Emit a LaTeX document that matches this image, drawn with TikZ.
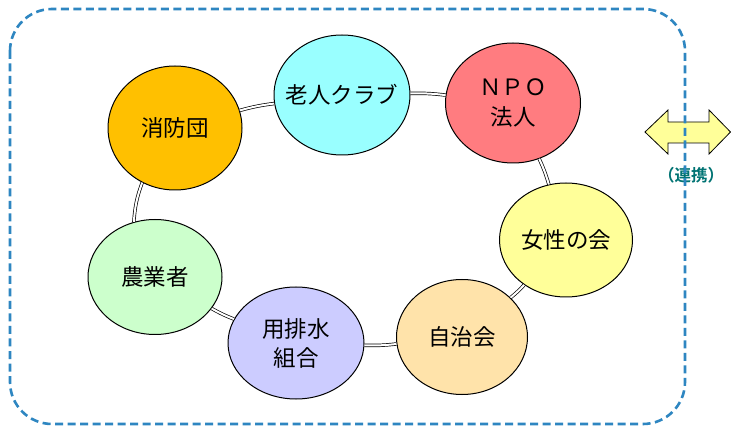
\documentclass[tikz,border=0pt]{standalone}
\usepackage{fontspec}
\newfontfamily\jp{Noto Sans CJK JP}
\newfontfamily\jpbold{Noto Sans CJK JP Bold}
\usetikzlibrary{shapes.geometric}
\definecolor{dashblue}{HTML}{2E86C1}
\definecolor{cOrange}{HTML}{FFC000}
\definecolor{cCyan}{HTML}{99FFFF}
\definecolor{cRed}{HTML}{FF7C80}
\definecolor{cYellow}{HTML}{FFFF99}
\definecolor{cPeach}{HTML}{FFE3AA}
\definecolor{cLav}{HTML}{CCCCFF}
\definecolor{cGreen}{HTML}{CCFFCC}
\definecolor{teal2}{HTML}{007373}
\begin{document}
\begin{tikzpicture}[x=1pt,y=-1pt,
  org/.style 2 args={ellipse, draw=black, line width=1pt, inner sep=0pt,
    label={[align=center, inner sep=0pt, font=\jp\fontsize{22.5}{29}\selectfont]center:#2},
    minimum width=#1},
  ring/.style={draw=black, line width=0.7pt, double=white, double distance=2pt}]
\useasboundingbox (0,0) rectangle (731,430);
\fill[white] (0,0) rectangle (731,430);
% block arrow
\draw[fill=cYellow, line width=0.8pt, line join=miter]
  (645,132) -- (668,110) -- (668,122) -- (709,122) -- (709,110) -- (730.5,132)
  -- (709,154) -- (709,143) -- (668,143) -- (668,154) -- cycle;
\node[font=\jpbold\fontsize{16.5}{18}\selectfont, text=teal2, inner sep=0pt] (lbl) at (691,175) {（連携）};
% dashed frame
\draw[dashblue, line width=2.6pt, dash pattern=on 8pt off 4.5pt, rounded corners=42pt]
  (10,9) rectangle (685,424);
% organisations
\node[org={134pt}{消防団}, fill=cOrange, minimum height=124pt] (shobo) at (175,128) {};
\node[org={136pt}{老人クラブ}, fill=cCyan, minimum height=120pt] (rojin) at (342,95) {};
\node[org={135pt}{ＮＰＯ\\[1pt]法人}, fill=cRed, minimum height=120pt] (npo) at (513,103) {};
\node[org={133pt}{女性の会}, fill=cYellow, minimum height=114pt] (josei) at (566,240) {};
\node[org={131pt}{自治会}, fill=cPeach, minimum height=115pt] (jichi) at (462,337) {};
\node[org={136pt}{用排水\\組合}, fill=cLav, minimum height=112pt] (yohai) at (296,343) {};
\node[org={134pt}{農業者}, fill=cGreen, minimum height=115pt] (nogyo) at (155,277) {};
% ring connectors
\draw[ring] (shobo) to[bend left=4] (rojin);
\draw[ring] (rojin) to[bend left=4] (npo);
\draw[ring] (npo) to[bend left=4] (josei);
\draw[ring] (josei) to[bend left=4] (jichi);
\draw[ring] (jichi) to[bend left=4] (yohai);
\draw[ring] (yohai) to[bend left=4] (nogyo);
\draw[ring] (nogyo.111) to[bend left=8] (shobo.239);
\end{tikzpicture}
\end{document}
